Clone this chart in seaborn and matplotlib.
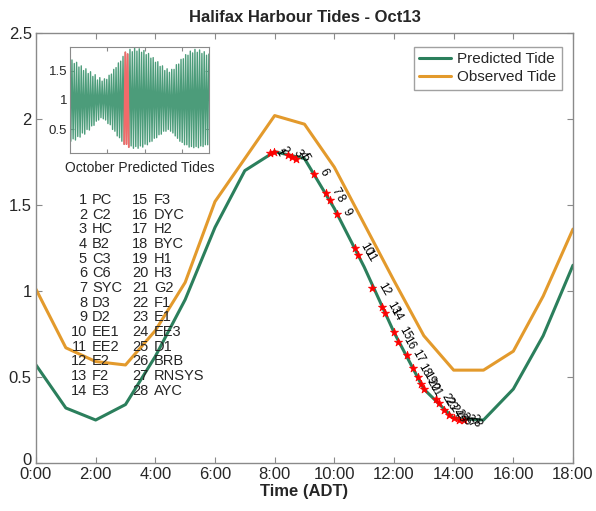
import numpy as np
import pandas as pd
import matplotlib
matplotlib.use("Agg")
import matplotlib.pyplot as plt
import matplotlib.transforms as mtransforms
import seaborn as sns

# ---------------- data ----------------
hours = [0, 1, 2, 3, 4, 5, 6, 7, 8, 9, 10, 11, 12, 13, 14, 15, 16, 17, 18]
predicted = [0.57, 0.32, 0.25, 0.34, 0.62, 0.95, 1.37, 1.70, 1.81, 1.77, 1.48,
             1.14, 0.76, 0.43, 0.26, 0.25, 0.43, 0.74, 1.15]
observed = [1.01, 0.67, 0.59, 0.57, 0.77, 1.05, 1.52, 1.77, 2.02, 1.97, 1.72,
            1.39, 1.06, 0.74, 0.54, 0.54, 0.65, 0.97, 1.36]

obs_times = [7.83, 7.97, 8.44, 8.59, 8.70, 9.31, 9.71, 9.85, 10.08, 10.68,
             10.81, 11.27, 11.60, 11.69, 11.99, 12.12, 12.42, 12.63, 12.80,
             12.91, 13.02, 13.40, 13.51, 13.67, 13.84, 14.01, 14.18, 14.34]
obs_heights = [1.80, 1.81, 1.79, 1.78, 1.77, 1.68, 1.57, 1.53, 1.45, 1.25,
               1.21, 1.02, 0.905, 0.87, 0.76, 0.705, 0.63, 0.55, 0.50,
               0.46, 0.43, 0.375, 0.35, 0.31, 0.28, 0.26, 0.25, 0.25]
stations = ["PC", "C2", "HC", "B2", "C3", "C6", "SYC", "D3", "D2", "EE1",
            "EE2", "E2", "F2", "E3", "F3", "DYC", "H2", "BYC", "H1", "H3",
            "G2", "F1", "E1", "EE3", "D1", "BRB", "RNSYS", "AYC"]

xtick_vals = [0, 2, 4, 6, 8, 10, 12, 14, 16, 18]
xtick_labels = ["0:00", "2:00", "4:00", "6:00", "8:00", "10:00", "12:00",
                "14:00", "16:00", "18:00"]
ytick_vals = [0, 0.5, 1, 1.5, 2, 2.5]
ytick_labels = ["0", "0.5", "1", "1.5", "2", "2.5"]

# October predicted tides: successive low / high waters (m)
oct_low = [0.30, 0.34, 0.32, 0.38, 0.37, 0.44, 0.42, 0.50, 0.49, 0.56,
           0.57, 0.64, 0.66, 0.70, 0.68, 0.66, 0.60, 0.58, 0.50, 0.47,
           0.39, 0.36, 0.30, 0.25, 0.25, 0.20, 0.22, 0.18, 0.21, 0.18,
           0.22, 0.20, 0.25, 0.24, 0.29, 0.30, 0.35, 0.36, 0.41, 0.42,
           0.47, 0.47, 0.50, 0.47, 0.44, 0.39, 0.35, 0.30, 0.28, 0.24,
           0.24, 0.20, 0.21, 0.19, 0.21, 0.19, 0.22, 0.21, 0.24, 0.24]
oct_high = [1.68, 1.62, 1.64, 1.56, 1.58, 1.50, 1.53, 1.45, 1.48, 1.40,
            1.43, 1.34, 1.38, 1.32, 1.36, 1.35, 1.42, 1.44, 1.52, 1.55,
            1.63, 1.66, 1.74, 1.81, 1.78, 1.86, 1.82, 1.88, 1.83, 1.87,
            1.81, 1.84, 1.77, 1.79, 1.71, 1.72, 1.64, 1.65, 1.57, 1.58,
            1.50, 1.53, 1.47, 1.52, 1.52, 1.60, 1.61, 1.69, 1.70, 1.77,
            1.76, 1.83, 1.80, 1.86, 1.81, 1.85, 1.79, 1.82, 1.76, 1.78]
first_extreme_hour = 4.3
half_tide_period = 6.21
oct13_start, oct13_end = 288, 312

# ---------------- style ----------------
sns.set_style("ticks")
plt.rcParams["font.family"] = ["Liberation Sans", "DejaVu Sans"]

GREEN = "#2b7f5c"
ORANGE = "#e39a2c"
GRID = "#8a8a8a"

fig = plt.figure(figsize=(5.96, 5.11), dpi=100)
ax = fig.add_axes([0.0604, 0.0939, 0.9010, 0.8415])

df = pd.DataFrame({"hour": hours, "Predicted Tide": predicted,
                   "Observed Tide": observed})
sns.lineplot(data=df, x="hour", y="Predicted Tide", ax=ax, color=GREEN,
             lw=2.2, label="Predicted Tide")
sns.lineplot(data=df, x="hour", y="Observed Tide", ax=ax, color=ORANGE,
             lw=2.2, label="Observed Tide")

obs = pd.DataFrame({"t": obs_times, "h": obs_heights})
sns.scatterplot(data=obs, x="t", y="h", ax=ax, marker="*", color="red",
                s=38, edgecolor="red", linewidth=0.5, zorder=5, legend=False)
for i, (t, h) in enumerate(zip(obs_times, obs_heights)):
    ax.annotate(str(i + 1), (t, h), xytext=(2, 1), textcoords="offset points",
                rotation=-60, rotation_mode="anchor", ha="left", va="bottom",
                fontsize=8.5, color="black", zorder=6)

ax.set_xlim(0, 18)
ax.set_ylim(0, 2.5)
ax.set_xticks(xtick_vals)
ax.set_xticklabels(xtick_labels, fontsize=12)
ax.set_yticks(ytick_vals)
ax.set_yticklabels(ytick_labels, fontsize=12)
ax.tick_params(direction="in", length=4, color=GRID, top=True, right=True,
               pad=3)
# lift the "0" label a little so it sits above the "0:00" label
zero_lbl = ax.get_yticklabels()[0]
zero_lbl.set_transform(zero_lbl.get_transform() +
                       mtransforms.ScaledTranslation(0, 4 / 100, fig.dpi_scale_trans))
for sp in ax.spines.values():
    sp.set_visible(True)
    sp.set_color(GRID)
    sp.set_linewidth(1.0)
ax.set_xlabel("Time (ADT)", fontsize=12, fontweight="bold", labelpad=1)
ax.set_ylabel("")
ax.set_title("Halifax Harbour Tides - Oct13", fontsize=12, fontweight="bold",
             pad=8)

leg = ax.legend(loc="upper right", fontsize=11, frameon=True, fancybox=False,
                handlelength=2.1, handletextpad=0.4, borderpad=0.35,
                labelspacing=0.25, bbox_to_anchor=(0.993, 0.985))
leg.get_frame().set_edgecolor(GRID)
leg.get_frame().set_linewidth(1.0)

# station key
for i, name in enumerate(stations):
    col = i // 14
    row = i % 14
    y = 1.53 - row * (1.53 - 0.42) / 13
    xn = 1.71 if col == 0 else 3.76
    xs = 1.88 if col == 0 else 3.96
    ax.text(xn, y, str(i + 1), ha="right", va="center", fontsize=10.5)
    ax.text(xs, y, name, ha="left", va="center", fontsize=10.5)

# ---------------- inset ----------------
ins = fig.add_axes([70 / 596, 1 - 153 / 511, 139 / 596, 106 / 511])
ext_vals = []
for lo, hi in zip(oct_low, oct_high):
    ext_vals.extend([lo, hi])
ext_t = first_extreme_hour + half_tide_period * np.arange(len(ext_vals))
oct_df = pd.DataFrame({"t": ext_t, "h": ext_vals})
sns.lineplot(data=oct_df, x="t", y="h", ax=ins, color="#4c9c7a", lw=1.0)
sel = oct_df[(oct_df.t >= oct13_start - 3) & (oct_df.t <= oct13_end + 3)]
sns.lineplot(data=sel, x="t", y="h", ax=ins, color="#f26a6a", lw=1.3)
ins.set_xlim(0, 744)
ins.set_ylim(0.1, 1.9)
ins.set_xticks([200, 400, 600])
ins.set_xticklabels([])
ins.set_yticks([0.5, 1, 1.5])
ins.set_yticklabels(["0.5", "1", "1.5"], fontsize=9.5)
ins.tick_params(direction="in", length=3, color=GRID, top=True, right=True,
                pad=2)
for sp in ins.spines.values():
    sp.set_visible(True)
    sp.set_color(GRID)
ins.set_xlabel("October Predicted Tides", fontsize=10, labelpad=4)
ins.set_ylabel("")

fig.savefig("out.png", dpi=100)
